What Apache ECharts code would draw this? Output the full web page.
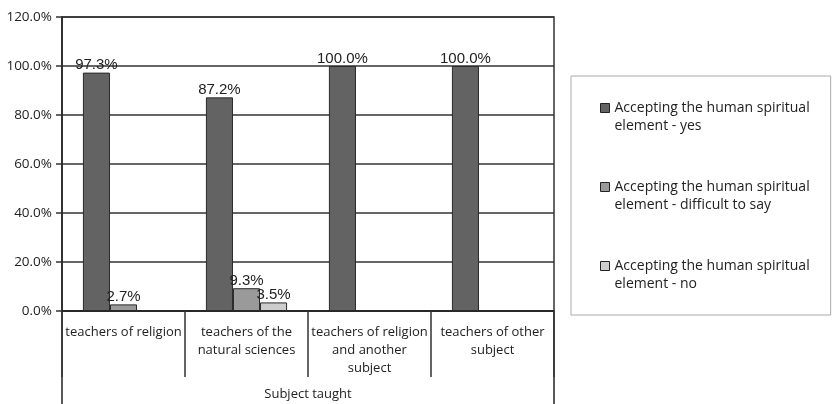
<!DOCTYPE html>
<html>
<head>
<meta charset="utf-8">
<script src="https://cdn.jsdelivr.net/npm/echarts@6/dist/echarts.min.js"></script>
<style>
html,body{margin:0;padding:0;background:#fff;}
#chart{width:832px;height:404px;}
</style>
</head>
<body>
<div id="chart"></div>
<script>
var categories = ['teachers of religion', 'teachers of the natural sciences', 'teachers of religion and another subject', 'teachers of other subject'];
var categoryLabels = ['teachers of religion', 'teachers of the\nnatural sciences', 'teachers of religion\nand another\nsubject', 'teachers of other\nsubject'];
var seriesNames = ['Accepting the human spiritual element - yes', 'Accepting the human spiritual element - difficult to say', 'Accepting the human spiritual element - no'];
var legendLabels = ['Accepting the human spiritual\nelement - yes', 'Accepting the human spiritual\nelement - difficult to say', 'Accepting the human spiritual\nelement - no'];
var valuesYes = [97.3, 87.2, 100.0, 100.0];
var valuesDifficult = [2.7, 9.3, null, null];
var valuesNo = [null, 3.5, null, null];
var yTicks = [0, 20, 40, 60, 80, 100, 120];

var colors = ['#636363', '#9a9a9a', '#cdcdcd'];
var allValues = [valuesYes, valuesDifficult, valuesNo];
var axisFont = 'Open Sans';

var chart = echarts.init(document.getElementById('chart'));
var series = allValues.map(function (vals, i) {
  return {
    name: seriesNames[i],
    type: 'bar',
    data: vals,
    barGap: '0%',
    barCategoryGap: '34%',
    itemStyle: { color: colors[i], borderColor: '#2a2a2a', borderWidth: 1 },
    label: {
      show: true,
      position: 'top',
      distance: 0,
      fontFamily: 'Liberation Sans',
      fontSize: 15,
      color: '#222',
      formatter: function (p) { return p.value == null ? '' : p.value.toFixed(1) + '%'; }
    }
  };
});

chart.setOption({
  animation: false,
  backgroundColor: '#fff',
  grid: { left: 62, right: 278, top: 17, bottom: 93, outerBoundsMode: 'none', containLabel: false, show: true, borderColor: '#333', borderWidth: 1.5 },
  xAxis: {
    type: 'category',
    data: categories,
    name: 'Subject taught',
    nameLocation: 'middle',
    nameGap: 77,
    nameTextStyle: { fontFamily: axisFont, fontSize: 13, color: '#222' },
    axisLine: { lineStyle: { color: '#222', width: 1.5 } },
    axisTick: { show: true, length: 66, lineStyle: { color: '#333', width: 1.5 } },
    axisLabel: {
      margin: 12,
      fontFamily: axisFont,
      fontSize: 13,
      lineHeight: 18,
      color: '#222',
      interval: 0,
      formatter: function (v, idx) { return categoryLabels[idx]; }
    }
  },
  yAxis: {
    type: 'value',
    min: yTicks[0],
    max: yTicks[yTicks.length - 1],
    interval: 20,
    axisLine: { show: true, lineStyle: { color: '#222', width: 1.5 } },
    axisTick: { show: true, length: 6, lineStyle: { color: '#333', width: 1.5 } },
    splitLine: { show: true, lineStyle: { color: '#333', width: 1.5 } },
    axisLabel: {
      margin: 10,
      fontFamily: axisFont,
      fontSize: 13.5,
      color: '#222',
      formatter: function (v) { return v.toFixed(1) + '%'; }
    }
  },
  legend: {
    orient: 'vertical',
    left: 571,
    top: 76,
    padding: [5, 21, 22, 29],
    itemGap: 25,
    itemWidth: 9,
    itemHeight: 9,
    borderColor: '#aaa',
    borderWidth: 1,
    borderRadius: 0,
    icon: 'rect',
    data: seriesNames.map(function (n) { return { name: n, itemStyle: { borderColor: '#222', borderWidth: 1 } }; }),
    formatter: function (name) { return '\n' + legendLabels[seriesNames.indexOf(name)]; },
    textStyle: { fontFamily: axisFont, fontSize: 14, lineHeight: 18, color: '#222' }
  },
  graphic: [
    { type: 'line', shape: { x1: 62, y1: 311, x2: 62, y2: 404 }, style: { stroke: '#222', lineWidth: 1.5 } },
    { type: 'line', shape: { x1: 554, y1: 311, x2: 554, y2: 404 }, style: { stroke: '#222', lineWidth: 1.5 } }
  ],
  series: series
});
</script>
</body>
</html>
